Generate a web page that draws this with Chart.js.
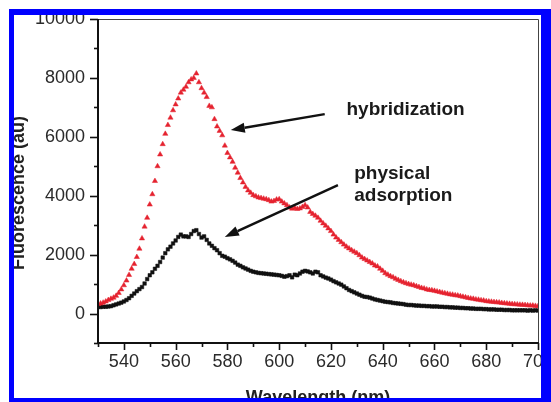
<!DOCTYPE html>
<html>
<head>
<meta charset="utf-8">
<script src="https://cdn.jsdelivr.net/npm/chart.js@4.4.1/dist/chart.umd.min.js"></script>
<style>
html,body{margin:0;padding:0;background:#fff;}
#wrap{position:relative;width:551px;height:402px;overflow:hidden;background:#fff;}
canvas{position:absolute;left:0;top:0;}
.b{position:absolute;background:#0000ff;z-index:5;}
</style>
</head>
<body>
<div id="wrap">
<canvas id="c" width="551" height="402"></canvas>
<div class="b" style="left:9px;top:9px;width:542px;height:6px;"></div>
<div class="b" style="left:9px;top:9px;width:5px;height:393px;"></div>
<div class="b" style="left:541px;top:9px;width:10px;height:393px;"></div>
<div class="b" style="left:9px;top:398px;width:542px;height:4px;"></div>
</div>
<script>
const wavelengths = [
530,531,532,533,534,535,536,537,538,539,
540,541,542,543,544,545,546,547,548,549,
550,551,552,553,554,555,556,557,558,559,
560,561,562,563,564,565,566,567,568,569,
570,571,572,573,574,575,576,577,578,579,
580,581,582,583,584,585,586,587,588,589,
590,591,592,593,594,595,596,597,598,599,
600,601,602,603,604,605,606,607,608,609,
610,611,612,613,614,615,616,617,618,619,
620,621,622,623,624,625,626,627,628,629,
630,631,632,633,634,635,636,637,638,639,
640,641,642,643,644,645,646,647,648,649,
650,651,652,653,654,655,656,657,658,659,
660,661,662,663,664,665,666,667,668,669,
670,671,672,673,674,675,676,677,678,679,
680,681,682,683,684,685,686,687,688,689,
690,691,692,693,694,695,696,697,698,699,
700];

const hybridization = [
320,340,370,410,460,500,540,600,700,820,
960,1120,1310,1520,1680,1920,2200,2550,2950,3250,
3700,4050,4500,5000,5400,5750,6100,6400,6650,6900,
7100,7300,7500,7600,7700,7850,7950,8000,8150,7850,
7650,7500,7350,7050,7000,6600,6350,6200,6050,5700,
5450,5300,5150,4950,4780,4600,4450,4300,4180,4100,
4020,3980,3940,3920,3900,3880,3850,3800,3820,3870,
3880,3800,3740,3680,3600,3560,3580,3550,3570,3620,
3680,3600,3450,3380,3320,3250,3150,3060,2980,2890,
2800,2680,2580,2500,2420,2340,2270,2210,2150,2100,
2050,1980,1900,1850,1800,1750,1700,1630,1600,1520,
1450,1370,1320,1270,1230,1180,1140,1100,1060,1030,
1000,980,960,930,900,870,850,820,800,790,
770,750,730,710,690,670,650,640,620,610,
590,570,550,530,510,500,480,470,450,440,
420,410,400,390,380,375,360,350,340,330,
320,315,310,300,295,290,280,270,270,260,
250];

const physicalAdsorption = [
230,220,230,230,240,250,280,310,340,370,
410,460,520,600,680,760,830,900,1020,1170,
1300,1400,1520,1620,1750,1900,2050,2180,2270,2380,
2480,2600,2680,2620,2620,2600,2700,2800,2830,2700,
2580,2620,2500,2380,2300,2220,2150,2050,1960,1930,
1880,1840,1790,1730,1660,1620,1570,1530,1490,1450,
1420,1400,1380,1370,1360,1350,1340,1330,1320,1310,
1300,1280,1250,1270,1300,1230,1320,1300,1360,1420,
1450,1430,1400,1360,1420,1400,1300,1260,1220,1190,
1150,1100,1060,1020,980,920,860,800,760,720,
680,640,600,570,560,540,510,480,460,440,
420,400,390,380,360,350,340,330,320,300,
290,290,280,270,270,260,260,250,250,240,
240,240,230,230,220,220,210,210,200,200,
190,190,180,180,170,170,160,160,160,150,
150,140,140,140,130,130,130,120,120,120,
110,110,110,110,110,110,100,110,100,110,
100];

const xTickValues = [540,560,580,600,620,640,660,680,700];
const yTickValues = [0,2000,4000,6000,8000,10000];
const xTitle = 'Wavelength (nm)';
const yTitle = 'Fluorescence (au)';
const notes = [
  {text:'hybridization', x:626, y:6750, tipX:581.3, tipY:6230, fromX:617.6, fromY:6770},
  {text:'physical', x:629, y:4580, tipX:579.0, tipY:2603, fromX:622.7, fromY:4360},
  {text:'adsorption', x:629, y:3830}
];

function pts(xs, ys){ return xs.map((x,i)=>({x:x, y:ys[i]})); }

const framePlugin = {
  id:'frame',
  afterDraw(chart){
    const ctx = chart.ctx, a = chart.chartArea;
    const xs = chart.scales.x, ys = chart.scales.y;
    ctx.save();
    ctx.strokeStyle = '#444'; ctx.lineWidth = 1;
    ctx.beginPath();
    ctx.moveTo(a.left, a.top+0.5); ctx.lineTo(a.right+0.5, a.top+0.5);
    ctx.lineTo(a.right+0.5, a.bottom);
    ctx.stroke();
    ctx.strokeStyle = '#111'; ctx.lineWidth = 2;
    ctx.beginPath();
    ctx.moveTo(a.left, a.top); ctx.lineTo(a.left, a.bottom); ctx.lineTo(a.right+1, a.bottom);
    ctx.stroke();
    ctx.lineWidth = 1.6;
    for (let v=-1000; v<=10000; v+=1000){
      const y = Math.round(ys.getPixelForValue(v))+0.5;
      const len = yTickValues.includes(v) ? 8 : 4;
      ctx.beginPath(); ctx.moveTo(a.left, y); ctx.lineTo(a.left-len, y); ctx.stroke();
    }
    for (let v=530; v<=700; v+=10){
      const x = Math.round(xs.getPixelForValue(v))+0.5;
      const len = xTickValues.includes(v) ? 7 : 4;
      ctx.beginPath(); ctx.moveTo(x, a.bottom); ctx.lineTo(x, a.bottom+len); ctx.stroke();
    }
    ctx.fillStyle = '#222';
    ctx.font = 'bold 18px "Liberation Sans", Arial, sans-serif';
    ctx.textAlign = 'center'; ctx.textBaseline = 'alphabetic';
    ctx.fillText(xTitle, (a.left+a.right)/2, 403);
    ctx.save();
    ctx.translate(24, 193); ctx.rotate(-Math.PI/2);
    ctx.fillText(yTitle, 0, 0);
    ctx.restore();
    ctx.font = 'bold 19px "Liberation Sans", Arial, sans-serif';
    ctx.textAlign = 'left'; ctx.fillStyle = '#1a1a1a';
    notes.forEach(n=>{
      ctx.fillText(n.text, xs.getPixelForValue(n.x), ys.getPixelForValue(n.y));
      if (n.tipX !== undefined){
        const x1 = xs.getPixelForValue(n.fromX), y1 = ys.getPixelForValue(n.fromY);
        const x2 = xs.getPixelForValue(n.tipX), y2 = ys.getPixelForValue(n.tipY);
        const ang = Math.atan2(y2-y1, x2-x1);
        const hl = 14, hw = 5;
        const bx = x2 - hl*Math.cos(ang), by = y2 - hl*Math.sin(ang);
        ctx.strokeStyle = '#111'; ctx.lineWidth = 2.5;
        ctx.beginPath(); ctx.moveTo(x1,y1); ctx.lineTo(bx,by); ctx.stroke();
        ctx.fillStyle = '#111';
        ctx.beginPath();
        ctx.moveTo(x2,y2);
        ctx.lineTo(bx + hw*Math.sin(ang), by - hw*Math.cos(ang));
        ctx.lineTo(bx - hw*Math.sin(ang), by + hw*Math.cos(ang));
        ctx.closePath(); ctx.fill();
        ctx.fillStyle = '#1a1a1a';
      }
    });
    ctx.restore();
  }
};

new Chart(document.getElementById('c'), {
  type:'scatter',
  data:{
    datasets:[
      {label:'hybridization', data:pts(wavelengths, hybridization), pointStyle:'triangle',
       pointRadius:3, borderWidth:0.5, backgroundColor:'#e5222f', borderColor:'#e5222f', showLine:false},
      {label:'physical adsorption', data:pts(wavelengths, physicalAdsorption), pointStyle:'rect',
       pointRadius:2.5, borderWidth:0.5, backgroundColor:'#111', borderColor:'#111', showLine:false}
    ]
  },
  options:{
    responsive:false, animation:false, devicePixelRatio:1,
    layout:{padding:{left:0, top:19, right:13, bottom:0}},
    plugins:{legend:{display:false}, tooltip:{enabled:false}},
    scales:{
      x:{type:'linear', min:530, max:700,
         grid:{display:false, drawTicks:false}, border:{display:false},
         ticks:{stepSize:10, autoSkip:false, maxRotation:0, padding:8,
                color:'#2a2a2a', font:{family:'"Liberation Sans", Arial, sans-serif', size:18},
                callback:(v)=> xTickValues.includes(v) ? String(v) : ''},
         afterFit:(s)=>{ s.height = 59; s.paddingLeft = 0; s.paddingRight = 0; }},
      y:{type:'linear', min:-1000, max:10000,
         grid:{display:false, drawTicks:false}, border:{display:false},
         ticks:{stepSize:1000, autoSkip:false, padding:13,
                color:'#2a2a2a', font:{family:'"Liberation Sans", Arial, sans-serif', size:18},
                callback:(v)=> yTickValues.includes(v) ? String(v) : ''},
         afterFit:(s)=>{ s.width = 98; s.paddingTop = 0; s.paddingBottom = 0; }}
    }
  },
  plugins:[framePlugin]
});
</script>
</body>
</html>
